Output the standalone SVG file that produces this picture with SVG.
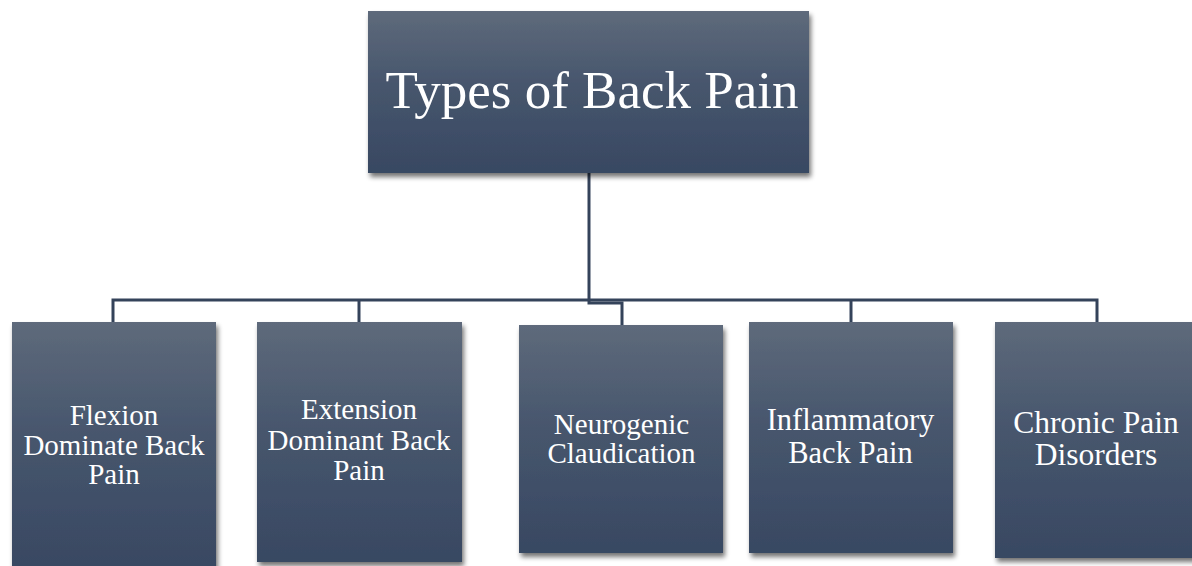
<svg xmlns="http://www.w3.org/2000/svg" width="1192" height="566" viewBox="0 0 1192 566">
<defs>
<linearGradient id="g" x1="0" y1="0" x2="0" y2="1">
<stop offset="0" stop-color="#5e6a7b"/>
<stop offset="0.45" stop-color="#47566d"/>
<stop offset="1" stop-color="#384862"/>
</linearGradient>
<filter id="sh" x="-10%" y="-10%" width="125%" height="125%">
<feGaussianBlur in="SourceAlpha" stdDeviation="2.5"/>
<feOffset dx="2" dy="4" result="b"/>
<feComponentTransfer><feFuncA type="linear" slope="0.55"/></feComponentTransfer>
<feMerge><feMergeNode/><feMergeNode in="SourceGraphic"/></feMerge>
</filter>
<style>
.box{fill:url(#g);filter:url(#sh);}
.t{fill:#ffffff;font-family:"Liberation Serif","Times New Roman",serif;text-anchor:middle;}
.c{fill:none;stroke:#34435a;stroke-width:3;}
</style>
</defs>
<rect width="1192" height="566" fill="#ffffff"/>
<g id="connectors">
<path class="c" d="M589 173 V300"/>
<path class="c" d="M113 322 V300 H1097 V322"/>
<path class="c" d="M359 300 V322"/>
<path class="c" d="M851 300 V322"/>
<path class="c" d="M589 300 V303 H622 V325"/>
</g>
<g id="root">
<rect class="box" x="368" y="11" width="441" height="162"/>
<text class="t" x="592" y="108" font-size="53">Types of Back Pain</text>
</g>
<g id="flexion">
<rect class="box" x="12" y="322" width="204" height="250"/>
<text class="t" font-size="29"><tspan x="114" y="425">Flexion</tspan><tspan x="114" y="454.5">Dominate Back</tspan><tspan x="114" y="484">Pain</tspan></text>
</g>
<g id="extension">
<rect class="box" x="257" y="322" width="205" height="240"/>
<text class="t" font-size="29"><tspan x="359" y="419">Extension</tspan><tspan x="359" y="450">Dominant Back</tspan><tspan x="359" y="480">Pain</tspan></text>
</g>
<g id="neurogenic">
<rect class="box" x="519" y="325" width="204" height="228"/>
<text class="t" font-size="29"><tspan x="621.5" y="434">Neurogenic</tspan><tspan x="621.5" y="463">Claudication</tspan></text>
</g>
<g id="inflammatory">
<rect class="box" x="749" y="322" width="204" height="231"/>
<text class="t" font-size="30.5"><tspan x="850.5" y="430">Inflammatory</tspan><tspan x="850.5" y="463">Back Pain</tspan></text>
</g>
<g id="chronic">
<rect class="box" x="995" y="322" width="204" height="236"/>
<text class="t" font-size="31.5"><tspan x="1096" y="433">Chronic Pain</tspan><tspan x="1096" y="465">Disorders</tspan></text>
</g>
</svg>
